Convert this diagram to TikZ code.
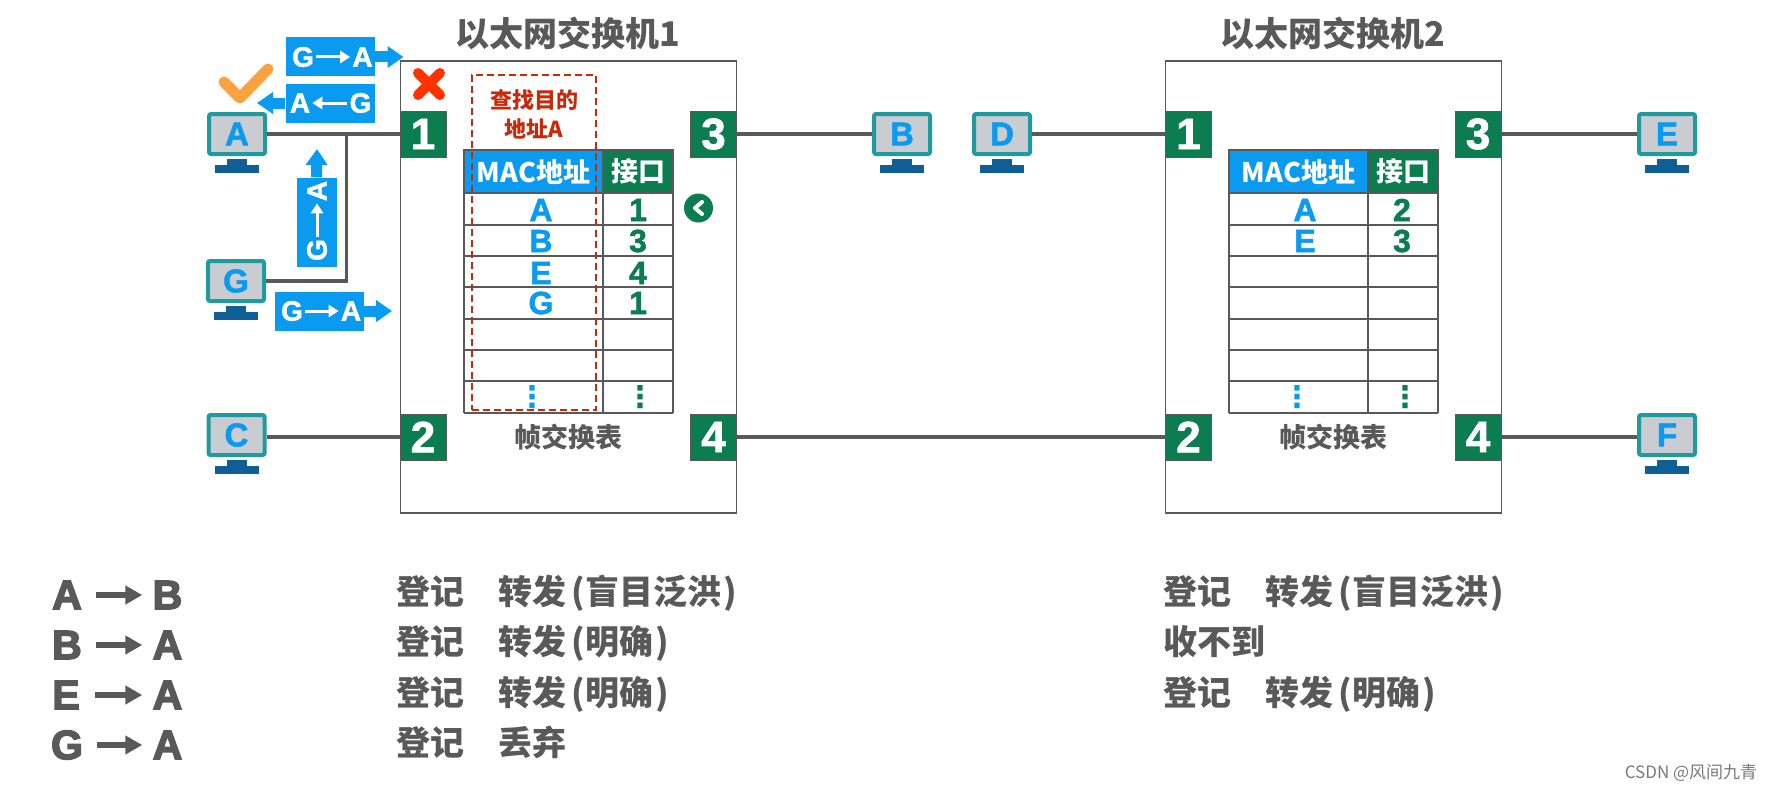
\documentclass[tikz,border=0pt]{standalone}
\usepackage{fontspec}
\usetikzlibrary{arrows.meta, positioning, calc}
\setmainfont{Liberation Sans}
\newfontfamily\cjk{Noto Sans CJK SC}
\newfontfamily\heavy[FakeBold=1.6]{Liberation Sans Bold}
\newfontfamily\blackface[FakeBold=3.5]{Liberation Sans Bold}
\newfontfamily\dejavu{DejaVu Sans}
\definecolor{cgrey}{HTML}{595959}
\definecolor{cblue}{HTML}{0A9BF0}
\definecolor{cgreen}{HTML}{0B7D50}
\definecolor{cteal}{HTML}{1F9A9E}
\definecolor{cscreen}{HTML}{C9CCD1}
\definecolor{cstand}{HTML}{0F5F96}
\definecolor{cred}{HTML}{C62A0A}
\definecolor{ccross}{HTML}{FF3300}
\definecolor{ctick}{HTML}{F9A23F}
\newcommand{\fsz}[1]{\fontsize{#1}{#1}\selectfont}

\begin{document}
\begin{tikzpicture}[
  x=1pt, y=-1pt,
  switchbox/.style={draw=cgrey, line width=1.5pt, minimum width=336pt, minimum height=452pt, inner sep=0pt},
  port/.style={fill=cgreen, draw=cgrey, line width=0.5pt, minimum size=46pt, inner sep=0pt, text=white, font=\fsz{44}\heavy},
  pc/.style={draw=cteal, fill=cscreen, line width=4pt, rounded corners=2pt, minimum width=56pt, minimum height=40pt,
             inner sep=0pt, text=cblue, font=\fsz{33}\heavy},
  wire/.style={draw=cgrey, line width=3.5pt},
  title/.style={text=cgrey, font=\fsz{34}\cjk\bfseries, inner sep=0pt},
  caption/.style={text=cgrey, font=\fsz{27}\cjk\bfseries, inner sep=0pt},
  machead/.style={fill=cblue, draw=cgrey, line width=1.5pt, minimum width=139pt, minimum height=43pt, inner sep=0pt,
                  text=white, font=\fsz{27}\cjk\bfseries},
  porthead/.style={fill=cgreen, draw=cgrey, line width=1.5pt, minimum width=70pt, minimum height=43pt, inner sep=0pt,
                   text=white, font=\fsz{27}\cjk\bfseries},
  addr/.style={text=cblue, font=\fsz{32}\heavy, inner sep=0pt},
  num/.style={text=cgreen, font=\fsz{32}\heavy, inner sep=0pt},
  more/.style={font=\fsz{30}\dejavu\bfseries, inner sep=0pt},
  tag/.style={fill=cblue, minimum width=89pt, minimum height=39pt, inner sep=0pt},
  tagtext/.style={text=white, font=\fsz{28}\heavy, inner sep=2pt},
  tagarr/.style={draw=white, line width=3pt, -{Triangle[length=10pt, width=12pt]}},
  pktarr/.style={draw=cblue, line width=11pt, -{Triangle[length=16pt, width=21pt]}},
  flowname/.style={text=cgrey, font=\fsz{41}\blackface, minimum width=30pt, inner sep=0pt},
  flowarr/.style={draw=cgrey, line width=6pt, -{Triangle[length=17pt, width=18pt]}, shorten <=14pt, shorten >=10pt},
  note/.style={text=cgrey, font=\fsz{34}\cjk\bfseries, inner sep=0pt, anchor=west, text height=30pt, text depth=5pt},
  ]
\useasboundingbox (0,0) rectangle (1783,792);

% switches
\node[switchbox] (sw1) at (568.5,287) {};
\node[switchbox] (sw2) at (1333.5,287) {};
\node[title] (title1) at (568,33) {以太网交换机1};
\node[title] (title2) at (1333,33) {以太网交换机2};

% tables
\foreach \x in {0,765} {
  \foreach \y in {193,225,256,287,319,350,381,413}
    \draw[draw=cgrey, line width=1.5pt] (464+\x,\y) -- (673+\x,\y);
  \draw[draw=cgrey, line width=1.5pt] (464+\x,193) -- (464+\x,413);
  \draw[draw=cgrey, line width=1.5pt] (603+\x,193) -- (603+\x,413);
  \draw[draw=cgrey, line width=1.5pt] (673+\x,193) -- (673+\x,413);
}
\node[machead] (mac1) at (533.5,171.5) {MAC地址};
\node[porthead] (if1) at (638,171.5) {接口};
\node[machead] (mac2) at (1298.5,171.5) {MAC地址};
\node[porthead] (if2) at (1403,171.5) {接口};

\node[addr] (a1) at (541,210) {A};
\node[addr] (a2) at (541,241) {B};
\node[addr] (a3) at (541,273) {E};
\node[addr] (a4) at (541,303) {G};
\node[num] (n1) at (638,210) {1};
\node[num] (n2) at (638,241) {3};
\node[num] (n3) at (638,273) {4};
\node[num] (n4) at (638,303) {1};
\node[addr] (a5) at (1305,210) {A};
\node[addr] (a6) at (1305,241) {E};
\node[num] (n5) at (1402,210) {2};
\node[num] (n6) at (1402,241) {3};
\node[more, text=cblue] (d1) at (532,397) {⋮};
\node[more, text=cgreen] (d2) at (640,397) {⋮};
\node[more, text=cblue] (d3) at (1297,397) {⋮};
\node[more, text=cgreen] (d4) at (1405,397) {⋮};
\node[caption] (cap1) at (568,437) {帧交换表};
\node[caption] (cap2) at (1333.5,437) {帧交换表};

% lookup hint
\node[draw=cred, dash pattern=on 7pt off 4pt, line width=2pt, minimum width=124pt, minimum height=335pt, inner sep=0pt] (look) at (534,242.5) {};
\node[text=cred, font=\fsz{22}\cjk\bfseries, inner sep=0pt] (hint1) at (534,100) {查找目的};
\node[text=cred, font=\fsz{22}\cjk\bfseries, inner sep=0pt] (hint2) at (534,129) {地址A};

% ports
\node[port] (p11) at (423,134) {1};
\node[port] (p13) at (713.5,134) {3};
\node[port] (p12) at (423,437) {2};
\node[port] (p14) at (713.5,437) {4};
\node[port] (p21) at (1188.5,134) {1};
\node[port] (p23) at (1478,134) {3};
\node[port] (p22) at (1188.5,437) {2};
\node[port] (p24) at (1478,437) {4};

% hosts
\node[pc] (pcA) at (237,134) {A};
\node[pc] (pcG) at (236,281) {G};
\node[pc] (pcC) at (236.5,435) {C};
\node[pc] (pcB) at (902,134) {B};
\node[pc] (pcD) at (1002,134) {D};
\node[pc] (pcE) at (1667,134) {E};
\node[pc] (pcF) at (1667,435) {F};
\foreach \h in {pcA,pcG,pcC,pcB,pcD,pcE,pcF} {
  \fill[cstand] ($(\h.south)+(-10,3)$) rectangle +(20,7);
  \fill[cstand] ($(\h.south)+(-22,9)$) rectangle +(44,8);
}

% wires
\coordinate (tee) at (346.5,134);
\draw[wire] (pcA) -- (p11);
\draw[wire] (pcG.east) -| (tee);
\draw[wire] (pcC.east |- p12) -- (p12);
\draw[wire] (p13) -- (pcB);
\draw[wire] (pcD) -- (p21);
\draw[wire] (p14) -- (p22);
\draw[wire] (p23) -- (pcE);
\draw[wire] (p24) -- (pcF.west |- p24);

% frames
\coordinate (tip1) at (403.5,57);
\coordinate (tip2) at (257,103);
\coordinate (tip3) at (317,149);
\coordinate (tip4) at (392,311);
\node[tag] (tag1) at (330.5,57) {};
\node[tag] (tag2) at (330,103) {};
\node[tag, minimum width=40pt, minimum height=89pt] (tag3) at (316.5,222) {};
\node[tag] (tag4) at (319.5,311) {};
\draw[pktarr] (tag1.east) -- (tip1);
\draw[pktarr] (tag2.west) -- (tip2);
\draw[pktarr] (tag3.north) -- (tip3);
\draw[pktarr] (tag4.east) -- (tip4);
\node[tagtext] (g1) at (303,57) {G};
\node[tagtext] (t1) at (362.5,57) {A};
\node[tagtext] (t2) at (300,103) {A};
\node[tagtext] (g2) at (360.5,103) {G};
\node[tagtext, rotate=90] (g3) at (317,250) {G};
\node[tagtext, rotate=90] (t3) at (317,191) {A};
\node[tagtext] (g4) at (292,311) {G};
\node[tagtext] (t4) at (351,311) {A};
\draw[tagarr] (g1) -- (t1);
\draw[tagarr] (g2) -- (t2);
\draw[tagarr] (g3) -- (t3);
\draw[tagarr] (g4) -- (t4);

% marks
\draw[draw=ctick, line width=11pt, line cap=round, line join=round] (224,82) -- (240,98) -- (268,69);
\draw[draw=ccross, line width=10pt, line cap=round] (418,73) -- (440,95);
\draw[draw=ccross, line width=10pt, line cap=round] (440,73) -- (418,95);
\node[circle, fill=cgreen, minimum size=29pt, inner sep=0pt] (back) at (698.5,208) {};
\draw[draw=white, line width=4pt, line cap=round, line join=round] (702,202) -- (695,208) -- (702,214);

% frame list
\node[flowname] (fa1) at (67,595) {A};
\node[flowname] (fb1) at (167.5,595) {B};
\node[flowname] (fa2) at (67,645) {B};
\node[flowname] (fb2) at (167.5,645) {A};
\node[flowname] (fa3) at (66,695) {E};
\node[flowname] (fb3) at (167.5,695) {A};
\node[flowname] (fa4) at (67,745) {G};
\node[flowname] (fb4) at (167.5,745) {A};
\draw[flowarr] (fa1) -- (fb1);
\draw[flowarr] (fa2) -- (fb2);
\draw[flowarr] (fa3) -- (fb3);
\draw[flowarr] (fa4) -- (fb4);

\node[note] (s11) at (396,592) {登记};
\node[note] (s12) at (498,592) {转发\,(盲目泛洪\hspace{2pt})};
\node[note] (s13) at (396,642) {登记};
\node[note] (s14) at (498,642) {转发\,(明确\hspace{2pt})};
\node[note] (s15) at (396,693) {登记};
\node[note] (s16) at (498,693) {转发\,(明确\hspace{2pt})};
\node[note] (s17) at (396,743) {登记};
\node[note] (s18) at (498,743) {丢弃};
\node[note] (s21) at (1163,592) {登记};
\node[note] (s22) at (1265,592) {转发\,(盲目泛洪\hspace{2pt})};
\node[note] (s23) at (1163,642) {收不到};
\node[note] (s25) at (1163,693) {登记};
\node[note] (s26) at (1265,693) {转发\,(明确\hspace{2pt})};

\node[text=cgrey!80, font=\fsz{17}\cjk, inner sep=0pt] (mark) at (1691,773) {CSDN @风间九青};
\end{tikzpicture}
\end{document}
